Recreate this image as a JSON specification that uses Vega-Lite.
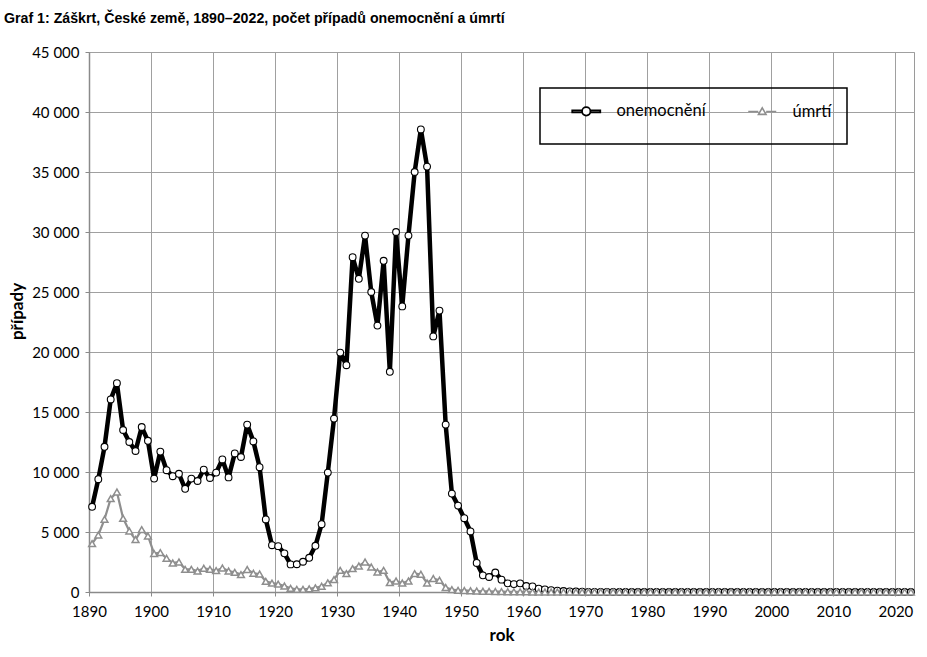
{
  "$schema": "https://vega.github.io/schema/vega-lite/v6.json",
  "width": 825,
  "height": 540,
  "autosize": {"type": "none"},
  "padding": {"left": 89, "top": 52, "right": 13, "bottom": 65},
  "background": "white",
  "title": {
    "text": "Graf 1: Záškrt, České země, 1890–2022, počet případů onemocnění a úmrtí",
    "anchor": "start",
    "frame": "group",
    "dx": -85,
    "offset": 19,
    "font": "Liberation Sans Narrow, Liberation Sans",
    "fontSize": 14.2,
    "fontWeight": "bold",
    "color": "black"
  },
  "config": {
    "view": {"stroke": "#9a9a9a", "strokeWidth": 1},
    "axis": {
      "labelFont": "Lato",
      "labelFontSize": 15,
      "labelColor": "black",
      "titleFont": "Lato",
      "titleFontSize": 17,
      "titleFontWeight": "bold",
      "titleColor": "black",
      "gridColor": "#a0a0a0",
      "gridWidth": 1,
      "gridOpacity": 1,
      "domainColor": "#8a8a8a",
      "domainWidth": 1.5,
      "tickColor": "#8a8a8a",
      "tickSize": 4
    }
  },
  "data": {
    "values": [
      {"rok": 1890, "onemocnění": 7100, "úmrtí": 4030},
      {"rok": 1891, "onemocnění": 9400, "úmrtí": 4750},
      {"rok": 1892, "onemocnění": 12100, "úmrtí": 6060},
      {"rok": 1893, "onemocnění": 16050, "úmrtí": 7780},
      {"rok": 1894, "onemocnění": 17400, "úmrtí": 8330},
      {"rok": 1895, "onemocnění": 13500, "úmrtí": 6140},
      {"rok": 1896, "onemocnění": 12500, "úmrtí": 5080},
      {"rok": 1897, "onemocnění": 11750, "úmrtí": 4370},
      {"rok": 1898, "onemocnění": 13750, "úmrtí": 5200},
      {"rok": 1899, "onemocnění": 12600, "úmrtí": 4670},
      {"rok": 1900, "onemocnění": 9450, "úmrtí": 3200},
      {"rok": 1901, "onemocnění": 11700, "úmrtí": 3280},
      {"rok": 1902, "onemocnění": 10150, "úmrtí": 2810},
      {"rok": 1903, "onemocnění": 9650, "úmrtí": 2420},
      {"rok": 1904, "onemocnění": 9850, "úmrtí": 2500},
      {"rok": 1905, "onemocnění": 8600, "úmrtí": 1890},
      {"rok": 1906, "onemocnění": 9450, "úmrtí": 1890},
      {"rok": 1907, "onemocnění": 9250, "úmrtí": 1750},
      {"rok": 1908, "onemocnění": 10200, "úmrtí": 1980},
      {"rok": 1909, "onemocnění": 9500, "úmrtí": 1890},
      {"rok": 1910, "onemocnění": 9950, "úmrtí": 1780},
      {"rok": 1911, "onemocnění": 11050, "úmrtí": 2000},
      {"rok": 1912, "onemocnění": 9550, "úmrtí": 1750},
      {"rok": 1913, "onemocnění": 11550, "úmrtí": 1640},
      {"rok": 1914, "onemocnění": 11250, "úmrtí": 1450},
      {"rok": 1915, "onemocnění": 13950, "úmrtí": 1870},
      {"rok": 1916, "onemocnění": 12550, "úmrtí": 1560},
      {"rok": 1917, "onemocnění": 10400, "úmrtí": 1500},
      {"rok": 1918, "onemocnění": 6050, "úmrtí": 890},
      {"rok": 1919, "onemocnění": 3900, "úmrtí": 740},
      {"rok": 1920, "onemocnění": 3820, "úmrtí": 660},
      {"rok": 1921, "onemocnění": 3220, "úmrtí": 500},
      {"rok": 1922, "onemocnění": 2300, "úmrtí": 300},
      {"rok": 1923, "onemocnění": 2310, "úmrtí": 220},
      {"rok": 1924, "onemocnění": 2520, "úmrtí": 220},
      {"rok": 1925, "onemocnění": 2850, "úmrtí": 260},
      {"rok": 1926, "onemocnění": 3850, "úmrtí": 340},
      {"rok": 1927, "onemocnění": 5650, "úmrtí": 480},
      {"rok": 1928, "onemocnění": 9950, "úmrtí": 760},
      {"rok": 1929, "onemocnění": 14450, "úmrtí": 1030},
      {"rok": 1930, "onemocnění": 19950, "úmrtí": 1800},
      {"rok": 1931, "onemocnění": 18900, "úmrtí": 1530},
      {"rok": 1932, "onemocnění": 27900, "úmrtí": 1950},
      {"rok": 1933, "onemocnění": 26100, "úmrtí": 2170},
      {"rok": 1934, "onemocnění": 29700, "úmrtí": 2500},
      {"rok": 1935, "onemocnění": 25000, "úmrtí": 2080},
      {"rok": 1936, "onemocnění": 22200, "úmrtí": 1670},
      {"rok": 1937, "onemocnění": 27600, "úmrtí": 1800},
      {"rok": 1938, "onemocnění": 18350, "úmrtí": 780},
      {"rok": 1939, "onemocnění": 30000, "úmrtí": 920},
      {"rok": 1940, "onemocnění": 23800, "úmrtí": 750},
      {"rok": 1941, "onemocnění": 29700, "úmrtí": 920},
      {"rok": 1942, "onemocnění": 35000, "úmrtí": 1530},
      {"rok": 1943, "onemocnění": 38550, "úmrtí": 1480},
      {"rok": 1944, "onemocnění": 35450, "úmrtí": 750},
      {"rok": 1945, "onemocnění": 21300, "úmrtí": 1120},
      {"rok": 1946, "onemocnění": 23450, "úmrtí": 980},
      {"rok": 1947, "onemocnění": 13950, "úmrtí": 370},
      {"rok": 1948, "onemocnění": 8200, "úmrtí": 200},
      {"rok": 1949, "onemocnění": 7200, "úmrtí": 140},
      {"rok": 1950, "onemocnění": 6150, "úmrtí": 130},
      {"rok": 1951, "onemocnění": 5050, "úmrtí": 100},
      {"rok": 1952, "onemocnění": 2420, "úmrtí": 80},
      {"rok": 1953, "onemocnění": 1390, "úmrtí": 60},
      {"rok": 1954, "onemocnění": 1250, "úmrtí": 50},
      {"rok": 1955, "onemocnění": 1620, "úmrtí": 40},
      {"rok": 1956, "onemocnění": 1030, "úmrtí": 30},
      {"rok": 1957, "onemocnění": 720, "úmrtí": 20},
      {"rok": 1958, "onemocnění": 660, "úmrtí": 15},
      {"rok": 1959, "onemocnění": 720, "úmrtí": 10},
      {"rok": 1960, "onemocnění": 500, "úmrtí": 8},
      {"rok": 1961, "onemocnění": 470, "úmrtí": 5},
      {"rok": 1962, "onemocnění": 280, "úmrtí": 4},
      {"rok": 1963, "onemocnění": 220, "úmrtí": 3},
      {"rok": 1964, "onemocnění": 160, "úmrtí": 2},
      {"rok": 1965, "onemocnění": 110, "úmrtí": 1},
      {"rok": 1966, "onemocnění": 80, "úmrtí": 1},
      {"rok": 1967, "onemocnění": 50, "úmrtí": 0},
      {"rok": 1968, "onemocnění": 40, "úmrtí": 0},
      {"rok": 1969, "onemocnění": 25, "úmrtí": 0},
      {"rok": 1970, "onemocnění": 15, "úmrtí": 0},
      {"rok": 1971, "onemocnění": 10, "úmrtí": 0},
      {"rok": 1972, "onemocnění": 8, "úmrtí": 0},
      {"rok": 1973, "onemocnění": 5, "úmrtí": 0},
      {"rok": 1974, "onemocnění": 3, "úmrtí": 0},
      {"rok": 1975, "onemocnění": 2, "úmrtí": 0},
      {"rok": 1976, "onemocnění": 0, "úmrtí": 0},
      {"rok": 1977, "onemocnění": 0, "úmrtí": 0},
      {"rok": 1978, "onemocnění": 0, "úmrtí": 0},
      {"rok": 1979, "onemocnění": 0, "úmrtí": 0},
      {"rok": 1980, "onemocnění": 0, "úmrtí": 0},
      {"rok": 1981, "onemocnění": 0, "úmrtí": 0},
      {"rok": 1982, "onemocnění": 0, "úmrtí": 0},
      {"rok": 1983, "onemocnění": 0, "úmrtí": 0},
      {"rok": 1984, "onemocnění": 0, "úmrtí": 0},
      {"rok": 1985, "onemocnění": 0, "úmrtí": 0},
      {"rok": 1986, "onemocnění": 0, "úmrtí": 0},
      {"rok": 1987, "onemocnění": 0, "úmrtí": 0},
      {"rok": 1988, "onemocnění": 0, "úmrtí": 0},
      {"rok": 1989, "onemocnění": 0, "úmrtí": 0},
      {"rok": 1990, "onemocnění": 0, "úmrtí": 0},
      {"rok": 1991, "onemocnění": 0, "úmrtí": 0},
      {"rok": 1992, "onemocnění": 0, "úmrtí": 0},
      {"rok": 1993, "onemocnění": 0, "úmrtí": 0},
      {"rok": 1994, "onemocnění": 0, "úmrtí": 0},
      {"rok": 1995, "onemocnění": 0, "úmrtí": 0},
      {"rok": 1996, "onemocnění": 0, "úmrtí": 0},
      {"rok": 1997, "onemocnění": 0, "úmrtí": 0},
      {"rok": 1998, "onemocnění": 0, "úmrtí": 0},
      {"rok": 1999, "onemocnění": 0, "úmrtí": 0},
      {"rok": 2000, "onemocnění": 0, "úmrtí": 0},
      {"rok": 2001, "onemocnění": 0, "úmrtí": 0},
      {"rok": 2002, "onemocnění": 0, "úmrtí": 0},
      {"rok": 2003, "onemocnění": 0, "úmrtí": 0},
      {"rok": 2004, "onemocnění": 0, "úmrtí": 0},
      {"rok": 2005, "onemocnění": 0, "úmrtí": 0},
      {"rok": 2006, "onemocnění": 0, "úmrtí": 0},
      {"rok": 2007, "onemocnění": 0, "úmrtí": 0},
      {"rok": 2008, "onemocnění": 0, "úmrtí": 0},
      {"rok": 2009, "onemocnění": 0, "úmrtí": 0},
      {"rok": 2010, "onemocnění": 0, "úmrtí": 0},
      {"rok": 2011, "onemocnění": 0, "úmrtí": 0},
      {"rok": 2012, "onemocnění": 0, "úmrtí": 0},
      {"rok": 2013, "onemocnění": 0, "úmrtí": 0},
      {"rok": 2014, "onemocnění": 0, "úmrtí": 0},
      {"rok": 2015, "onemocnění": 0, "úmrtí": 0},
      {"rok": 2016, "onemocnění": 0, "úmrtí": 0},
      {"rok": 2017, "onemocnění": 0, "úmrtí": 0},
      {"rok": 2018, "onemocnění": 0, "úmrtí": 0},
      {"rok": 2019, "onemocnění": 0, "úmrtí": 0},
      {"rok": 2020, "onemocnění": 0, "úmrtí": 0},
      {"rok": 2021, "onemocnění": 0, "úmrtí": 0},
      {"rok": 2022, "onemocnění": 0, "úmrtí": 0}
    ]
  },
  "transform": [
    {"fold": ["onemocnění", "úmrtí"], "as": ["ukazatel", "pocet"]}
  ],
  "encoding": {
    "x": {
      "field": "rok",
      "type": "quantitative",
      "scale": {"domain": [1889.5, 2022.5], "nice": false, "zero": false},
      "axis": {
        "title": "rok",
        "values": [1889.5, 1899.5, 1909.5, 1919.5, 1929.5, 1939.5, 1949.5, 1959.5, 1969.5, 1979.5, 1989.5, 1999.5, 2009.5, 2019.5],
        "labelExpr": "format(datum.value + 0.5, 'd')",
        "labelFlush": false,
        "labelPadding": 8,
        "titlePadding": 8,
        "grid": true
      }
    },
    "y": {
      "field": "pocet",
      "type": "quantitative",
      "scale": {"domain": [0, 45000], "nice": false},
      "axis": {
        "title": "případy",
        "values": [0, 5000, 10000, 15000, 20000, 25000, 30000, 35000, 40000, 45000],
        "labelExpr": "replace(format(datum.value, ','), ',', ' ')",
        "labelFlush": false,
        "labelPadding": 6,
        "titleX": -71.5,
        "titleY": 259,
        "titleBaseline": "middle",
        "titleAlign": "center",
        "grid": true
      }
    }
  },
  "layer": [
    {
      "mark": {"type": "line", "strokeJoin": "round"},
      "encoding": {
        "color": {
          "field": "ukazatel",
          "type": "nominal",
          "scale": {"domain": ["onemocnění", "úmrtí"], "range": ["#000000", "#8e8e8e"]},
          "legend": {
            "title": null,
            "orient": "none",
            "legendX": 451,
            "legendY": 36,
            "direction": "horizontal",
            "strokeColor": "black",
            "padding": 15,
            "symbolSize": 784,
            "symbolOffset": 23,
            "labelOffset": 22,
            "columnPadding": 25,
            "labelFont": "Lato",
            "labelFontSize": 16.5,
            "labelColor": "black",
            "labelExpr": "datum.label === 'úmrtí' ? 'úmrtí\u2003\u2002' : datum.label",
            "encode": {
              "legend": {"update": {"strokeWidth": {"value": 1.5}}},
              "symbols": {
                "update": {
                  "shape": {"signal": "datum.value === 'onemocnění' ? 'M0,-1M0,1M-1,-0.07H-0.3V0.07H-1Z M0.3,-0.07H1V0.07H0.3Z M0.3,0A0.3,0.3,0,1,1,-0.3,0A0.3,0.3,0,1,1,0.3,0Z' : 'M0,-1M0,1M-1,0H-0.28 M0.28,0H1 M0,-0.26L0.27,0.2L-0.27,0.2Z'"},
                  "fill": {"value": "white"},
                  "fillOpacity": {"value": 1},
                  "opacity": {"value": 1},
                  "stroke": {"signal": "datum.value === 'onemocnění' ? '#000000' : '#8e8e8e'"},
                  "strokeWidth": {"signal": "datum.value === 'onemocnění' ? 1.8 : 1.6"}
                }
              }
            }
          }
        },
        "strokeWidth": {
          "condition": {"test": "datum.ukazatel === 'úmrtí'", "value": 2.2},
          "value": 4.5
        }
      }
    },
    {
      "mark": {"type": "point", "filled": false, "fill": "white", "fillOpacity": 1, "opacity": 1},
      "encoding": {
        "stroke": {
          "condition": {"test": "datum.ukazatel === 'úmrtí'", "value": "#8e8e8e"},
          "value": "#000000"
        },
        "shape": {
          "condition": {"test": "datum.ukazatel === 'úmrtí'", "value": "triangle-up"},
          "value": "circle"
        },
        "size": {"value": 46},
        "strokeWidth": {
          "condition": {"test": "datum.ukazatel === 'úmrtí'", "value": 1.5},
          "value": 1.1
        }
      }
    }
  ]
}
